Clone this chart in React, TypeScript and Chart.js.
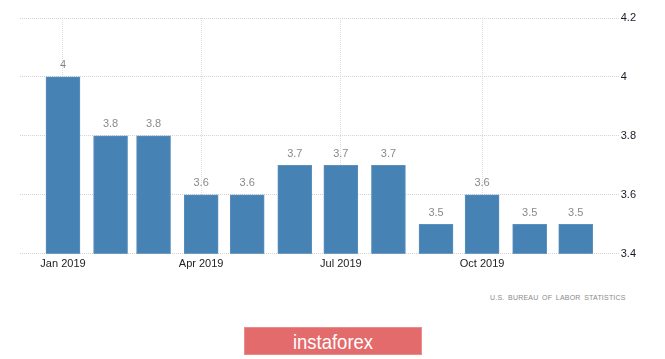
import React, { useEffect, useRef } from "react";
import { Chart, registerables } from "chart.js";

Chart.register(...registerables);

const monthDates = ["2019-01-01", "2019-02-01", "2019-03-01", "2019-04-01", "2019-05-01", "2019-06-01", "2019-07-01", "2019-08-01", "2019-09-01", "2019-10-01", "2019-11-01", "2019-12-01"];
const rateValues = [4.0, 3.8, 3.8, 3.6, 3.6, 3.7, 3.7, 3.7, 3.5, 3.6, 3.5, 3.5];
const xTickDates = ["2019-01-01", "2019-04-01", "2019-07-01", "2019-10-01"];
const xTickLabels = ["Jan 2019", "Apr 2019", "Jul 2019", "Oct 2019"];
const yTickValues = [3.4, 3.6, 3.8, 4.0, 4.2];
const yTickLabels = ["3.4", "3.6", "3.8", "4", "4.2"];
const sourceText = "U.S. BUREAU OF LABOR STATISTICS";
const brandText = "instaforex";

const DAY = 86400000;
const origin = Date.UTC(2019, 0, 1);
const toDay = (s: string) => {
  const [y, m, d] = s.split("-").map(Number);
  return Math.round((Date.UTC(y, m - 1, d) - origin) / DAY);
};

const FONT = "'Liberation Sans', Arial, sans-serif";

export default function App() {
  const ref = useRef<HTMLCanvasElement | null>(null);
  useEffect(() => {
    document.body.style.margin = "0";
    const canvas = ref.current;
    if (!canvas) return;
    const xTickDays = xTickDates.map(toDay);
    const valueLabels = {
      id: "valueLabels",
      afterDatasetsDraw(chart: any) {
        const ctx = chart.ctx;
        const meta = chart.getDatasetMeta(0);
        ctx.save();
        ctx.font = `11px ${FONT}`;
        ctx.fillStyle = "#8a8a8a";
        ctx.textAlign = "center";
        ctx.textBaseline = "bottom";
        meta.data.forEach((el: any, i: number) => {
          ctx.fillText(String(rateValues[i]), el.x, el.y - 6);
        });
        ctx.restore();
      },
    };
    const chart = new Chart(canvas, {
      type: "bar",
      data: {
        datasets: [
          {
            data: monthDates.map((d, i) => ({ x: toDay(d), y: rateValues[i] })),
            backgroundColor: "#4682B4",
            borderColor: "#5b90bf",
            borderWidth: 1,
            barThickness: 34,
          } as any,
        ],
      },
      options: {
        animation: false,
        responsive: true,
        maintainAspectRatio: false,
        layout: { padding: { left: 20, right: 27, top: 18, bottom: 15 } },
        plugins: { legend: { display: false }, tooltip: { enabled: false } },
        scales: {
          x: {
            type: "linear",
            offset: false,
            min: -28,
            max: 362,
            afterBuildTicks: (scale: any) => {
              scale.ticks = xTickDays.map((v) => ({ value: v }));
            },
            ticks: {
              padding: 4,
              color: "#222",
              font: { family: FONT, size: 11 },
              maxRotation: 0,
              autoSkip: false,
              callback: (v: any) => xTickLabels[xTickDays.indexOf(Number(v))] ?? "",
            },
            grid: { color: "#dcdcdc", drawTicks: false, offset: false },
            border: { display: false, dash: [1, 1] },
          },
          y: {
            position: "right",
            min: 3.4,
            max: 4.2,
            afterBuildTicks: (scale: any) => {
              scale.ticks = yTickValues.map((v) => ({ value: v }));
            },
            ticks: {
              padding: 2,
              color: "#1a1a2a",
              font: { family: FONT, size: 11 },
              callback: (v: any) => {
                const i = yTickValues.findIndex((t) => Math.abs(t - Number(v)) < 1e-6);
                return i >= 0 ? yTickLabels[i] : "";
              },
            },
            grid: { color: "#d4d4d4", drawTicks: false },
            border: { display: false, dash: [1, 1] },
          },
        },
      },
      plugins: [valueLabels],
    });
    return () => chart.destroy();
  }, []);

  return (
    <div style={{ position: "relative", width: 665, height: 359, background: "#fff", overflow: "hidden" }}>
      <div style={{ position: "absolute", left: 0, top: 0, width: 665, height: 290 }}>
        <canvas ref={ref} />
      </div>
      <div
        style={{
          position: "absolute",
          left: 490,
          top: 293,
          fontFamily: FONT,
          fontSize: 7,
          lineHeight: "9px",
          letterSpacing: 0.2,
          wordSpacing: 1.5,
          color: "#8a8a8a",
          whiteSpace: "nowrap",
        }}
      >
        {sourceText}
      </div>
      <div
        style={{
          position: "absolute",
          left: 244,
          top: 327,
          width: 176,
          height: 26,
          background: "#e46b6b",
          border: "1px solid #ea8c8c",
        }}
      >
        <span
          style={{
            position: "absolute",
            left: 0,
            right: 0,
            top: 1,
            textAlign: "center",
            color: "#fff",
            fontFamily: FONT,
            fontSize: 21,
            lineHeight: "26px",
            transform: "scaleX(0.88)",
          }}
        >
          {brandText}
        </span>
      </div>
    </div>
  );
}
